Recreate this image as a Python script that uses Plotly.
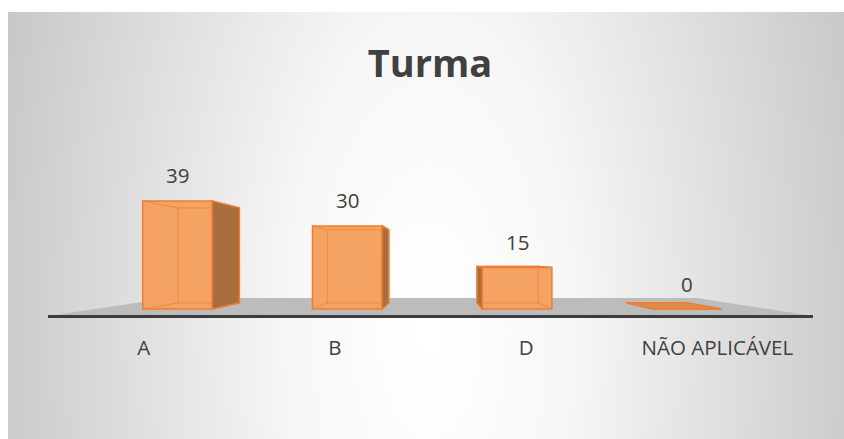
import base64
import plotly.graph_objects as go

# ---------------- data ----------------
categories = ["A", "B", "D", "NÃO APLICÁVEL"]
values = [39, 30, 15, 0]
title_text = "Turma"

# ---------------- geometry / style ----------------
W, H = 844, 439
X0, DX = 177.5, 169.8        # pixel centre of first bar, pixels per category
Y0, KY = 309.0, 2.77         # pixel baseline, pixels per unit
XR = (-0.85, 3.85)
YR = (-4.0, 60.0)
BW = 0.41                    # bar width (category units)
S = 0.88                     # depth scale of bar boxes
SF = 0.69                    # depth scale of floor
VX = (438 - X0) / DX         # vanishing point (data units)
VY = (Y0 - 258) / KY

FRONT = "#F4A363"
EDGE = "#ED7D31"
SIDE = "#A86E3E"
TOPC = "rgba(232,130,55,0.85)"
TXT = "#404040"
FONT = "Open Sans"

idx = list(range(len(categories)))

x_dom = [(X0 + XR[0] * DX) / W, (X0 + XR[1] * DX) / W]
y_dom = [(H - (Y0 - YR[0] * KY)) / H, (H - (Y0 - YR[1] * KY)) / H]


def back(x, y, s=S):
    return VX + s * (x - VX), VY + s * (y - VY)


def path(pts):
    return "M " + " L ".join(f"{x:.4f},{y:.4f}" for x, y in pts) + " Z"


shapes = []

# floor
FY = -(316 - Y0) / KY
FXL = (48 - X0) / DX
FXR = (813 - X0) / DX
shapes.append(dict(type="path", xref="x", yref="y", layer="below",
                   path=path([(FXL, FY), (FXR, FY), back(FXR, FY, SF), back(FXL, FY, SF)]),
                   fillcolor="#BCBCBC", line=dict(width=0)))

# 3D box decorations from data
for i, v in zip(idx, values):
    xl, xr = i - BW / 2, i + BW / 2
    fbl, fbr, ftr, ftl = (xl, 0), (xr, 0), (xr, v), (xl, v)
    bbl, bbr, btr, btl = back(*fbl), back(*fbr), back(*ftr), back(*ftl)
    # see-through back edges
    for a, b in [(bbl, bbr), (bbr, btr), (btr, btl), (btl, bbl),
                 (fbl, bbl), (fbr, bbr), (ftr, btr), (ftl, btl)]:
        shapes.append(dict(type="line", xref="x", yref="y", layer="above",
                           x0=a[0], y0=a[1], x1=b[0], y1=b[1],
                           line=dict(color=EDGE, width=1.2), opacity=0.55))
    # side face
    if xr < VX:
        pts = [fbr, ftr, btr, bbr]
    elif xl > VX:
        pts = [fbl, ftl, btl, bbl]
    else:
        pts = None
    if pts and v > 0:
        shapes.append(dict(type="path", xref="x", yref="y", layer="above",
                           path=path(pts), fillcolor=SIDE,
                           line=dict(color=EDGE, width=1.5)))
    # top face (visible when below the horizon)
    if v < VY:
        shapes.append(dict(type="path", xref="x", yref="y", layer="above",
                           path=path([ftl, ftr, btr, btl]), fillcolor=TOPC,
                           line=dict(color=EDGE, width=1.2)))

# radial-gradient background
svg = (
    '<svg xmlns="http://www.w3.org/2000/svg" width="836" height="427" '
    'viewBox="0 0 836 427" preserveAspectRatio="none">'
    '<defs><radialGradient id="g" gradientUnits="userSpaceOnUse" cx="0" cy="0" r="1" '
    'gradientTransform="translate(422 318) scale(470 1000)">'
    '<stop offset="0" stop-color="#ffffff"/>'
    '<stop offset="0.3" stop-color="#f7f7f7"/>'
    '<stop offset="1" stop-color="#c4c4c4"/>'
    '</radialGradient></defs>'
    '<rect x="0" y="0" width="836" height="427" fill="url(#g)"/></svg>'
)
src = "data:image/svg+xml;base64," + base64.b64encode(svg.encode()).decode()

fig = go.Figure()
fig.add_trace(go.Bar(
    x=idx, y=values, width=BW, hovertext=categories,
    marker=dict(color=FRONT, line=dict(color=EDGE, width=1.5)),
    showlegend=False,
))
fig.add_trace(go.Scatter(
    x=idx, y=[0] * len(idx), xaxis="x2", yaxis="y", mode="markers",
    marker=dict(opacity=0), hoverinfo="skip", showlegend=False,
))

annotations = [
    dict(x=i, y=v, xref="x", yref="y", text=str(v), showarrow=False,
         yshift=25.5, yanchor="middle", font=dict(family=FONT, size=20.5, color=TXT))
    for i, v in zip(idx, values)
]

fig.update_layout(
    width=W, height=H,
    margin=dict(l=0, r=0, t=0, b=0),
    paper_bgcolor="white",
    plot_bgcolor="rgba(0,0,0,0)",
    showlegend=False,
    title=dict(text=title_text, x=430 / W, y=(H - 64) / H, xref="paper", yref="paper",
               xanchor="center", yanchor="middle",
               font=dict(family=FONT, size=38, color=TXT, weight="bold")),
    xaxis=dict(range=list(XR), domain=x_dom, visible=False, fixedrange=True),
    yaxis=dict(range=list(YR), domain=y_dom, visible=False, fixedrange=True),
    xaxis2=dict(range=[-0.5, len(idx) - 0.5], domain=[48 / W, 813 / W],
                anchor="free", position=(H - 316) / H,
                tickmode="array", tickvals=idx, ticktext=categories,
                showline=True, linecolor="#3C3C3C", linewidth=3,
                ticks="outside", ticklen=12, tickcolor="rgba(0,0,0,0)",
                tickfont=dict(family=FONT, size=20.5, color=TXT),
                showgrid=False, zeroline=False, fixedrange=True),
    shapes=shapes,
    annotations=annotations,
    images=[dict(source=src, xref="paper", yref="paper", x=8 / W, y=1 - 12 / H,
                 sizex=(W - 8) / W, sizey=(H - 12) / H, xanchor="left", yanchor="top",
                 sizing="stretch", layer="below")],
)

fig.write_html(
    "out.html",
    config={"displayModeBar": False},
    post_script="document.body.style.margin='0';document.body.style.overflow='hidden';",
)
